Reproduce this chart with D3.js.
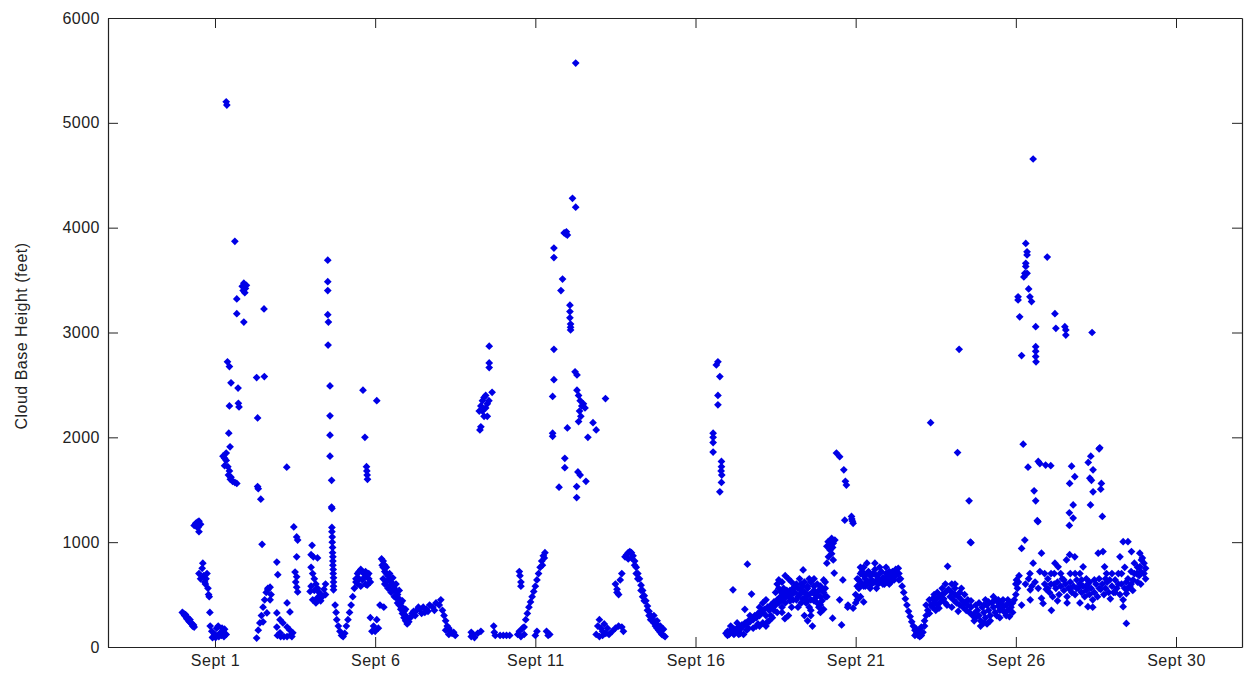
<!DOCTYPE html>
<html>
<head>
<meta charset="utf-8">
<script src="https://cdn.jsdelivr.net/npm/d3@7"></script>
<style>
  body { margin: 0; background: #fff; }
  svg { display: block; }
  .axis text { font-family: "Liberation Sans", Arial, sans-serif; font-size: 16px; fill: #222; letter-spacing: 0.5px; }
  .axis path, .axis line { stroke: #222; }
</style>
</head>
<body>
<div id="chart"></div>
<script>
// tick positions (day of September) and their labels
var dayTicks = [1, 6, 11, 16, 21, 26, 31];
var dayLabels = ['Sept 1', 'Sept 6', 'Sept 11', 'Sept 16', 'Sept 21', 'Sept 26', 'Sept 30'];
var heightTicks = [0, 1000, 2000, 3000, 4000, 5000, 6000];

// readings: [day of September, cloud base height in feet]
var week1 = [
  [-0.02,330],[0.02,320],[0.05,300],[0.08,310],[0.1,290],[0.12,270],[0.15,280],[0.18,250],[0.2,240],[0.22,260],[0.25,230],[0.28,220],[0.3,200],[0.33,210],[0.35,190],
  [0.35,1160],[0.4,1180],[0.45,1190],[0.5,1200],[0.42,1150],[0.55,1170],[0.5,1100],[0.47,1140],
  [0.5,700],[0.55,650],[0.6,750],[0.62,800],[0.65,680],[0.68,620],[0.7,600],[0.72,650],[0.75,700],[0.78,560],[0.8,500],[0.82,480],[0.84,330],
  [0.85,200],[0.9,150],[0.95,100],[1.0,120],[1.05,180],[1.1,200],[1.15,130],[1.2,110],[1.25,150],[1.3,170],[1.35,120],[0.92,90],[1.02,90],[1.12,100],[1.22,180],[1.28,100],
  [1.35,5200],[1.37,5170],[1.62,3870],[1.85,3440],[1.9,3470],[1.95,3420],[1.88,3400],[1.93,3380],[1.98,3450],[1.68,3320],[1.68,3180],[1.9,3100],[2.53,3225],
  [1.39,2720],[1.45,2675],[1.5,2520],[1.72,2470],[2.3,2570],[2.54,2580],[1.45,2300],[1.73,2325],[1.75,2290],[1.43,2040],[1.47,1910],
  [1.25,1820],[1.3,1800],[1.35,1780],[1.3,1730],[1.4,1720],[1.45,1680],[1.42,1640],[1.5,1620],[1.48,1600],[1.55,1580],[1.62,1570],[1.68,1560],[1.35,1850],
  [2.33,2185],[2.33,1530],[2.35,1510],[2.43,1410],[2.47,980],[3.24,1715],
  [2.3,85],[2.35,160],[2.4,230],[2.45,300],[2.5,380],[2.55,450],[2.6,520],[2.65,560],[2.72,570],[2.75,500],
  [2.5,240],[2.62,325],[2.72,450],[2.65,545],[2.93,325],[3.03,260],[3.12,230],[3.25,190],[3.34,160],[3.43,135],[2.93,190],[3.03,135],[3.25,420],[3.34,335],[2.93,810],[2.96,690],
  [2.95,110],[3.05,100],[3.15,100],[3.25,100],[3.35,110],[3.4,100],
  [3.46,1145],[3.55,1050],[3.58,1020],[3.55,860],[3.5,715],[3.55,670],[3.52,620],[3.55,570],[3.58,525],
  [4.03,970],[4.0,880],[4.07,860],[4.2,850],
  [4.0,760],[4.05,700],[4.1,650],[4.15,600],[4.2,560],[4.25,520],[4.3,500],[4.0,580],[4.1,540],[4.2,470],[4.3,440],[4.35,480],[4.4,550],[4.45,600],[4.45,500],[4.15,420],[3.97,530],[4.05,450],
  [4.53,2880],[4.52,3690],[4.52,3485],[4.52,3400],[4.52,3170],[4.54,3100],[4.59,2490],[4.59,2205],[4.59,2020],[4.59,1820],[4.64,1590],[4.64,1335],[4.65,1320],
  [4.65,1140],[4.65,1100],[4.66,1050],[4.66,1000],[4.67,950],[4.67,900],[4.68,860],[4.68,820],[4.68,780],[4.69,740],[4.69,700],[4.7,660],[4.7,620],[4.7,580],[4.7,545],
  [4.75,400],[4.78,330],[4.8,260],[4.85,200],[4.9,150],[4.95,110],[5.0,100],[5.05,130],[5.1,200],[5.15,260],[5.2,330],[5.25,400],[5.3,480],[5.35,560],[5.4,620],
  [5.4,650],[5.45,700],[5.5,720],[5.55,740],[5.6,720],[5.65,700],[5.7,720],[5.75,680],[5.8,650],[5.85,620],[5.5,650],[5.6,640],[5.7,600],[5.45,600],[5.55,580],[5.75,590],[5.65,660],[5.8,700],
  [5.62,2450],[6.05,2350],[5.68,2000],[5.73,1720],[5.74,1680],[5.75,1640],[5.76,1600],
  [5.85,280],[5.95,200],[6.05,260],[5.9,150],[6.0,150],[6.1,180],[6.15,400],[6.27,380],
  [6.2,840],[6.22,780],[6.25,760],[6.3,720],[6.35,700],[6.4,680],[6.45,650],[6.5,620],[6.55,600],[6.6,560],[6.65,530],[6.7,500],[6.75,460],[6.8,420],[6.85,380],[6.9,340],[6.95,300],[7.0,260],[7.05,240],
  [6.3,600],[6.4,560],[6.5,520],[6.25,650],[6.35,620],[6.45,580],[6.6,480],[6.7,420],[6.8,360],[6.9,280],[7.0,220],
  [6.25,820],[6.3,780],[6.35,760],[6.45,700],[6.55,660],[6.65,600],[6.75,540],[6.85,440],[6.95,360],[6.55,540],[6.65,470],[6.75,400],[6.85,320],[6.95,250]
];

var week2 = [
  [7.1,280],[7.15,320],[7.2,340],[7.3,350],[7.4,360],[7.5,380],[7.6,360],[7.7,400],[7.8,380],[7.9,420],[8.0,400],[7.25,300],[7.45,320],[7.65,340],[7.85,350],[8.05,450],[7.35,380],[7.55,330],
  [8.1,350],[8.15,300],[8.2,250],[8.25,200],[8.3,180],[8.35,150],[8.4,130],[8.45,140],[8.5,110],[8.2,160],[8.3,120],
  [9.0,100],[9.05,120],[9.1,90],[9.2,130],[9.3,150],[9.0,140],
  [9.56,2870],[9.56,2710],[9.56,2665],[9.65,2430],[9.25,2250],[9.3,2300],[9.35,2350],[9.4,2380],[9.45,2400],[9.5,2320],[9.4,2200],[9.35,2250],[9.45,2280],[9.5,2200],[9.55,2350],[9.27,2070],[9.3,2100],
  [9.7,200],[9.72,140],[9.75,110],[9.9,110],[10.0,110],[10.1,110],[10.2,110],[10.45,120],[10.5,150],[10.55,100],[10.6,180],[10.65,120],[11.0,110],[11.05,150],[11.35,150],[11.4,110],[11.45,120],
  [10.5,720],[10.52,680],[10.55,620],[10.55,580],
  [10.65,190],[10.7,260],[10.75,320],[10.8,380],[10.85,430],[10.9,480],[10.95,530],[11.0,580],[11.05,640],[11.1,700],[11.15,760],[11.2,820],[11.25,870],[11.3,900],[11.28,850],[11.22,780],
  [12.26,5570],[12.16,4280],[12.26,4195],[11.9,3950],[11.95,3940],[12.0,3930],[11.97,3960],[11.58,3805],[11.58,3715],[11.85,3510],[11.8,3400],[12.08,3260],[12.08,3200],[12.08,3140],[12.1,3080],[12.1,3050],[12.1,3025],
  [11.58,2840],[11.58,2550],[11.54,2390],[12.24,2625],[12.3,2595],
  [12.3,2450],[12.35,2400],[12.4,2350],[12.45,2300],[12.38,2250],[12.42,2200],[12.5,2320],[12.55,2280],[12.35,2150],[13.19,2370],[12.8,2140],[12.9,2070],[12.64,2000],[12.0,2090],[11.54,2010],[11.54,2040],
  [11.92,1800],[11.92,1710],[12.33,1670],[12.4,1640],[12.58,1580],[11.74,1525],[12.29,1530],[12.29,1425],
  [12.9,120],[12.95,200],[13.0,260],[13.05,180],[13.1,150],[13.15,220],[13.2,130],[13.25,180],[13.3,120],[13.4,150],[13.5,180],[13.6,200],[13.7,190],[13.75,150],[13.0,100],[13.1,110],
  [13.5,600],[13.55,550],[13.6,500],[13.65,640],[13.7,700],[13.55,520],
  [13.85,880],[13.9,900],[13.95,910],[14.0,900],[14.05,870],[13.8,860],[13.9,840],[14.0,850]
];

var week3 = [
  [14.1,820],[14.15,760],[14.2,700],[14.25,650],[14.3,590],[14.35,540],[14.4,490],[14.45,440],[14.5,390],[14.55,340],[14.6,300],[14.65,260],[14.7,230],[14.75,200],[14.8,180],[14.85,160],[14.9,140],[14.95,120],[15.0,110],[15.05,100],[14.7,300],[14.8,250],[14.9,200],[15.0,170],
  [14.1,780],[14.2,650],[14.3,540],[14.4,440],[14.5,350],[14.6,260],[14.75,240],[14.85,200],[14.95,160],[14.15,700],[14.35,480],[14.55,300],
  [16.7,2720],[16.65,2690],[16.76,2580],[16.7,2400],[16.7,2310],[16.55,2040],[16.55,2000],[16.55,1950],[16.55,1860],[16.81,1770],[16.81,1720],[16.8,1680],[16.82,1640],[16.81,1570],[16.76,1480],
  [16.95,130],[17.0,150],[17.05,120],[17.1,160],[17.15,140],[17.2,170],[17.25,150],[17.3,180],[17.35,190],[17.4,170],[17.45,210],[17.5,200],[17.55,230],[17.6,220],[17.65,250],[17.7,240],[17.75,280],[17.8,260],[17.85,300],[17.9,280],[17.95,320],[18.0,300],
  [18.05,340],[18.1,330],[18.15,360],[18.2,300],[18.25,380],[18.3,350],[18.35,400],[18.4,370],[18.45,430],[18.5,400],[18.55,450],[18.6,420],[18.65,480],[18.7,450],[18.75,500],[18.8,470],[18.85,520],[18.9,480],[18.95,540],[19.0,500],
  [19.05,560],[19.1,520],[19.15,450],[19.2,480],[19.25,500],[19.3,540],[19.35,460],[19.4,520],[19.45,480],[19.5,560],[19.55,500],[19.6,450],[19.65,520],[19.7,580],[19.75,500],[19.8,600],[19.85,540],[19.9,480],[19.95,560],[20.0,520],[20.05,620],
  [17.5,120],[17.8,180],[18.1,230],[18.4,280],[18.7,330],[19.0,380],[19.3,420],[19.6,300],[19.9,330],[18.0,200],[18.3,250],[18.9,300],
  [17.0,110],[17.1,200],[17.2,120],[17.3,230],[17.4,130],[17.6,160],[17.7,300],[17.9,200],[18.0,380],[18.1,420],[18.2,450],[18.25,240],[18.35,300],[18.45,350],[18.5,520],[18.55,330],[18.6,560],[18.7,380],[18.8,420],[18.95,440],
  [19.05,450],[19.15,600],[19.2,380],[19.25,650],[19.35,580],[19.4,620],[19.5,440],[19.55,650],[19.7,650],[19.8,420],[19.85,380],[19.95,440],[20.0,360],[20.05,480],[19.4,300],[19.5,250],[18.2,200],[17.95,220],[17.65,180],[17.35,120],
  [17.17,545],[17.62,790],[17.75,505],[17.54,360],[19.36,735],[19.65,200],[18.79,270],
  [18.55,600],[18.6,640],[18.7,620],[18.8,680],[18.9,650],[18.75,560],[18.65,530],[19.0,620],[19.1,580],[18.85,540],
  [19.2,560],[19.3,600],[19.4,520],[19.5,580],[19.6,620],[19.7,540],[19.8,500],[19.9,580],[20.0,640],[19.45,420],[19.55,380],[19.7,440],[19.9,400],[20.05,560],[20.1,480],[19.6,350],[19.75,470],
  [20.1,960],[20.14,1005],[20.25,1035],[20.3,990],[20.2,925],[20.15,860],[20.25,890],[20.3,830],[20.1,800],[20.2,1000],[20.35,1020],[20.28,950],[20.22,970],
  [20.4,1850],[20.5,1815],[20.63,1690],[20.68,1580],[20.71,1545],[20.66,1210],[20.87,1245],[20.92,1180],[20.88,1220],[20.9,1200],
  [20.33,705],[20.56,210],[20.28,275],[20.6,640],[20.5,450],[20.75,380],[20.76,400],[20.92,370]
];

var week4 = [
  [21.0,500],[21.05,580],[21.1,640],[21.15,700],[21.2,720],[21.25,680],[21.3,650],[21.35,700],[21.4,720],[21.45,680],[21.5,640],[21.55,700],[21.6,740],[21.65,680],[21.7,650],[21.75,700],[21.8,720],[21.85,660],[21.9,640],[21.95,700],
  [22.0,680],[22.05,650],[22.1,700],[22.15,720],[22.2,680],[22.25,740],[22.3,700],[22.35,640],
  [21.1,560],[21.2,600],[21.3,580],[21.4,620],[21.5,600],[21.6,620],[21.7,600],[21.8,620],[21.9,600],[22.0,620],[22.1,620],[22.2,640],[21.15,480],[21.25,430],[21.05,450],[21.45,560],[21.65,560],[21.35,800],[21.0,420],
  [21.05,650],[21.15,620],[21.25,580],[21.35,620],[21.45,600],[21.55,620],[21.75,620],[21.85,600],[21.95,620],[22.05,600],[22.15,660],[22.25,680],[22.35,700],[22.05,720],[21.95,760],[21.75,760],[21.25,760],[21.15,760],
  [21.6,800],[22.33,750],
  [22.4,650],[22.45,580],[22.5,520],[22.55,460],[22.6,400],[22.65,340],[22.7,290],[22.75,240],[22.8,200],[22.85,160],[22.9,130],[22.95,110],[23.0,100],[23.05,110],[23.1,140],[22.9,170],[23.0,150],[23.05,190],[23.15,200],[22.85,110],
  [23.15,250],[23.2,300],[23.25,350],[23.3,320],[23.35,400],[23.4,380],[23.45,420],[23.5,450],[23.55,400],[23.6,480],[23.65,430],[23.7,500],[23.75,460],[23.8,520],[23.2,400],[23.4,460],[23.6,370],[23.5,350],[23.8,420],
  [23.3,450],[23.45,500],[23.55,520],[23.7,560],[23.8,600],[24.0,600],[24.1,560],[24.25,520],[24.4,500],[24.5,450],[24.6,440],[24.75,400],[24.85,420],[25.0,400],[25.15,430],[25.35,450],[25.45,450],[25.6,450],[25.75,450],[25.9,420],
  [24.7,250],[25.1,220],[25.4,300],[25.7,300],
  [23.87,770],[24.6,995],[23.34,2140],[24.18,1855],[24.54,1395],[24.58,1000],[24.23,2840],
  [23.9,550],[23.95,480],[24.0,520],[24.05,450],[24.1,500],[24.15,420],[24.2,480],[24.25,400],[24.3,450],[24.35,380],[24.4,420],[24.45,350],[24.5,400],[24.55,330],[24.6,380],[24.65,300],[24.1,600],[24.3,560],[23.85,400],[24.0,380],[24.2,340],
  [24.7,320],[24.75,280],[24.8,350],[24.85,300],[24.9,250],[24.95,380],[25.0,330],[25.05,280],[25.1,400],[25.15,350],[25.2,300],[25.25,420],[25.3,380],[25.35,330],[25.4,440],[25.45,390],[25.5,350],[25.55,420],[25.6,380],[25.65,330],
  [25.7,400],[25.75,350],[25.8,420],[25.85,380],[25.9,330],[24.9,200],[25.0,230],[25.2,250],[25.5,280],[25.8,290],[25.05,450],[25.3,480],
  [25.95,450],[26.0,500],[26.05,560],[26.08,620],[26.1,680],[26.0,600],[26.02,640],[26.18,940],[26.28,1020],[26.18,400],
  [26.23,1935],[26.38,1715],[26.7,1770],[26.75,1750],[26.93,1735],[27.09,1730],[26.57,1490],[26.62,1395],[26.67,1205],[26.69,1195],
  [27.74,1725],[27.84,1625],[27.68,1560],[27.79,1355],[27.67,1280],[27.79,1230],[27.67,1160],
  [28.6,1890],[28.62,1900],[28.34,1820],[28.26,1760],[28.41,1690],[28.31,1610],[28.36,1590],[28.67,1560],[28.65,1505],[28.41,1480],[28.33,1355],[28.7,1245],
  [26.54,4655],[26.31,3850],[26.35,3770],[26.35,3740],[26.31,3660],[26.31,3630],[26.28,3565],[26.35,3565],[26.25,3530],[26.98,3720],[26.4,3415],
  [26.07,3340],[26.07,3310],[26.44,3340],[26.49,3295],[26.12,3150],[27.22,3180],[26.62,3055],[27.25,3040],[27.53,3055],[27.56,3025],[27.56,2975],[28.38,3000],
  [26.18,2780],[26.62,2865],[26.62,2820],[26.62,2770],[26.63,2720],
  [26.8,895],[26.54,800],[26.44,700],[26.75,720],[26.45,545],[26.45,450],[26.8,465],[26.85,415],[27.11,350],[27.22,800],[27.32,765],
  [27.58,830],[27.68,880],[27.84,860],[27.7,700],[27.85,700],[28.1,765],[28.05,640],[28.2,575],[28.25,385],
  [28.57,895],[28.72,910],[28.77,765],[28.83,700],[28.93,640],[29.25,860],[29.35,1005],[29.5,1005],[29.61,910],[29.45,225],[29.35,385],
  [29.87,895],[29.92,830],[29.87,765],[29.77,700],[29.66,640],[29.56,575],[29.45,510],[29.35,450],
  [26.9,600],[26.95,550],[27.0,650],[27.05,520],[27.1,600],[27.15,480],[27.2,700],[27.25,560],[27.3,620],[27.35,500],[27.4,580],[27.45,650],[27.5,540],[27.55,600],[27.6,480],[27.65,560],[27.7,620],[27.75,520],[27.8,580],[27.85,500],
  [27.9,640],[27.95,560],[28.0,600],[28.05,520],[28.1,580],[28.15,480],[28.2,540],[28.25,600],[28.3,500],[28.35,560],[28.4,450],[28.45,520],[28.5,600],[28.55,480],[28.6,650],[28.65,550],[28.7,600],[28.75,500],[28.8,560],[28.85,620],
  [28.9,520],[28.95,460],[29.0,580],[29.05,520],[29.1,640],[29.15,560],[29.2,600],[29.3,700],[29.4,560],[29.5,650],[29.6,720],[29.7,800],[29.8,620],[29.9,720],[30.0,800],[30.05,750],[29.25,500],[29.45,620],[29.65,540],[29.85,680],
  [27.3,440],[27.6,420],[28.0,420],[28.4,380],
  [26.3,600],[26.4,650],[26.5,580],[26.6,620],[26.7,560],[26.9,700],[27.0,560],[27.1,700],[27.2,600],[27.4,700],[27.5,640],[27.7,560],[27.9,560],[28.0,700],[28.2,650],[28.3,620],
  [28.45,640],[28.6,560],[28.8,650],[29.0,700],[29.1,520],[29.2,700],[29.3,600],[29.4,760],[29.5,560],[29.6,600],[29.7,700],[29.8,760],[29.9,600],[30.0,700],[29.95,850],[30.05,650]
];

var W = 1248, H = 675;
var plotL = 108, plotR = 1242, plotT = 18, plotB = 647;

var svg = d3.select('#chart').append('svg').attr('width', W).attr('height', H);

var x = d3.scaleLinear().domain([-2.34, 33.06]).range([plotL, plotR]);
var y = d3.scaleLinear().domain([0, 6000]).range([plotB, plotT]);

// frame axes, MATLAB style with inward ticks on all four sides
svg.append('g').attr('class', 'axis').attr('transform', 'translate(0,' + plotB + ')')
  .call(d3.axisBottom(x).tickValues(dayTicks).tickFormat(function(d, i){ return dayLabels[i]; })
    .tickSizeInner(-10).tickSizeOuter(0).tickPadding(8));
svg.append('g').attr('class', 'axis').attr('transform', 'translate(0,' + plotT + ')')
  .call(d3.axisTop(x).tickValues(dayTicks).tickFormat('').tickSizeInner(-10).tickSizeOuter(0));
svg.append('g').attr('class', 'axis').attr('transform', 'translate(' + plotL + ',0)')
  .call(d3.axisLeft(y).tickValues(heightTicks).tickFormat(d3.format('d'))
    .tickSizeInner(-10).tickSizeOuter(0).tickPadding(8));
svg.append('g').attr('class', 'axis').attr('transform', 'translate(' + plotR + ',0)')
  .call(d3.axisRight(y).tickValues(heightTicks).tickFormat('').tickSizeInner(-10).tickSizeOuter(0));

svg.selectAll('.axis path.domain').attr('stroke-width', 1.2);

// y label
svg.append('text')
  .attr('transform', 'translate(27,336) rotate(-90)')
  .attr('text-anchor', 'middle')
  .style('font-family', '"Liberation Sans", Arial, sans-serif')
  .style('font-size', '16px')
  .style('letter-spacing', '0.5px')
  .style('fill', '#222')
  .text('Cloud Base Height (feet)');

// diamond markers
var marker = d3.symbol().type(d3.symbolSquare).size(30);
var all = week1.concat(week2, week3, week4);

svg.append('g').selectAll('path')
  .data(all)
  .enter().append('path')
  .attr('d', marker)
  .attr('transform', function(d){ return 'translate(' + x(d[0]) + ',' + y(d[1]) + ') rotate(45)'; })
  .attr('fill', '#0000e6');
</script>
</body>
</html>
